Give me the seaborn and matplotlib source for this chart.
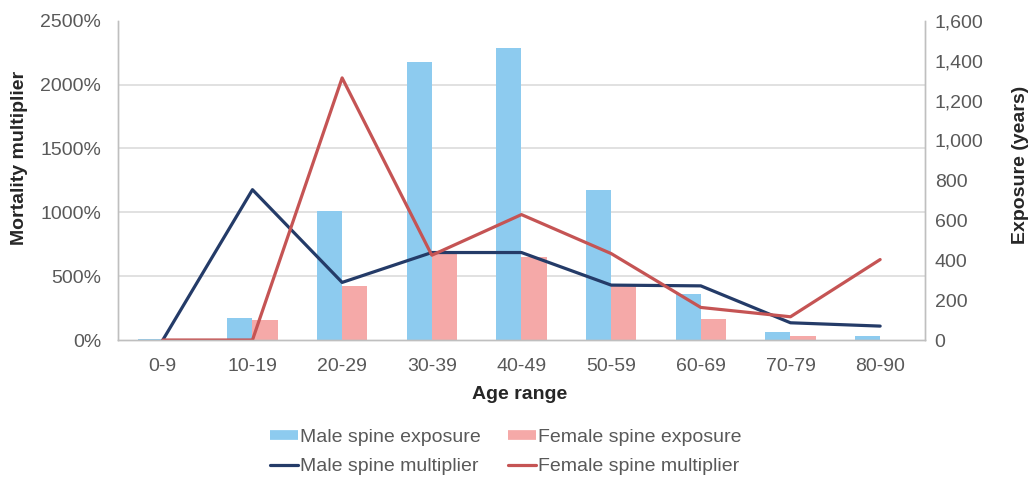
import numpy as np
import pandas as pd
import matplotlib
matplotlib.use("Agg")
import matplotlib.pyplot as plt
from matplotlib.lines import Line2D
from matplotlib.ticker import PercentFormatter, FuncFormatter
import seaborn as sns

# Age bands and the four series
ages = ["0-9", "10-19", "20-29", "30-39", "40-49", "50-59", "60-69", "70-79", "80-90"]
male_exposure = [5, 108, 647, 1392, 1462, 753, 233, 42, 22]
female_exposure = [0, 100, 272, 433, 417, 275, 103, 22, 0]
male_multiplier = [0, 1177, 451, 685, 685, 430, 424, 135, 109]
female_multiplier = [0, 0, 2052, 664, 982, 677, 255, 182, 630]

series_names = ["Male spine exposure", "Female spine exposure",
                "Male spine multiplier", "Female spine multiplier"]

c_male_bar = "#8DCBEF"
c_female_bar = "#F5A9A8"
c_male_line = "#243B68"
c_female_line = "#C55454"
c_grid = "#D9D9D9"
c_tick = "#595959"
c_label = "#262626"

sns.set_style("white")
plt.rcParams["font.family"] = ["Liberation Sans", "DejaVu Sans"]

exposure_df = pd.DataFrame({
    "age": ages * 2,
    "exposure": male_exposure + female_exposure,
    "series": [series_names[0]] * len(ages) + [series_names[1]] * len(ages),
})
mult_df = pd.DataFrame({
    "pos": list(range(len(ages))) * 2,
    "mult": male_multiplier + female_multiplier,
    "series": [series_names[2]] * len(ages) + [series_names[3]] * len(ages),
})

fig = plt.figure(figsize=(10.32, 4.87), dpi=100)
ax1 = fig.add_axes([0.1143, 0.3018, 0.7820, 0.6557])
ax2 = ax1.twinx()

# Exposure bars on the right-hand axis, drawn underneath the lines
sns.barplot(data=exposure_df, x="age", y="exposure", hue="series",
            palette=[c_male_bar, c_female_bar], width=0.56, gap=0,
            saturation=1, legend=False, linewidth=0, ax=ax2)
ax2.set_ylim(0, 1600)
ax2.set_yticks(np.arange(0, 1601, 200))
ax2.yaxis.set_major_formatter(FuncFormatter(lambda v, p: f"{v:,.0f}"))
# gridlines follow the left-axis steps (every 500% = every 320 years)
ax2.set_yticks(np.linspace(0, 1600, 6), minor=True)
ax2.grid(False)
ax2.grid(True, which="minor", axis="y", color=c_grid, linewidth=1.1)
ax2.set_axisbelow(True)
ax2.tick_params(axis="y", which="both", length=0, pad=7,
                labelsize=14, labelcolor=c_tick)
ax2.set_ylabel("Exposure (years)", fontsize=14, fontweight="bold",
               color=c_label)
ax2.yaxis.set_label_coords(1.108, 0.55)

# Mortality multiplier lines on the left-hand axis
sns.lineplot(data=mult_df, x="pos", y="mult", hue="series",
             palette=[c_male_line, c_female_line], linewidth=2.3,
             legend=False, ax=ax1)
ax1.set_zorder(ax2.get_zorder() + 1)
ax1.patch.set_visible(False)
ax1.set_ylim(0, 2500)
ax1.set_yticks(np.arange(0, 2501, 500))
ax1.yaxis.set_major_formatter(PercentFormatter(xmax=100, decimals=0))
ax1.grid(False)
ax1.set_xlim(-0.5, len(ages) - 0.5)
ax1.set_xticks(range(len(ages)), ages)
ax1.tick_params(axis="both", length=0, labelsize=14, labelcolor=c_tick)
ax1.tick_params(axis="y", pad=12)
ax1.tick_params(axis="x", pad=13)
ax1.set_ylabel("Mortality multiplier", fontsize=14, fontweight="bold",
               color=c_label)
ax1.yaxis.set_label_coords(-0.111, 0.57)
ax1.set_xlabel("Age range", fontsize=14, fontweight="bold", color=c_label)
ax1.xaxis.set_label_coords(0.498, -0.145)
ax2.set_xlabel("")

for ax in (ax1, ax2):
    for side in ("left", "right", "bottom"):
        ax.spines[side].set_color("#BFBFBF")
        ax.spines[side].set_linewidth(1.0)
    ax.spines["top"].set_visible(False)

# Legend built from proxy handles
handles = [
    Line2D([], [], color=c_male_bar, linewidth=7, solid_capstyle="butt"),
    Line2D([], [], color=c_male_line, linewidth=2.3),
    Line2D([], [], color=c_female_bar, linewidth=7, solid_capstyle="butt"),
    Line2D([], [], color=c_female_line, linewidth=2.3),
]
labels = [series_names[0], series_names[2], series_names[1], series_names[3]]
leg = fig.legend(handles, labels, loc="center", bbox_to_anchor=(0.49, 0.072),
                 ncol=2, frameon=False, fontsize=14, handlelength=1.45,
                 handletextpad=0.1, columnspacing=1.4, labelspacing=0.6)
for t in leg.get_texts():
    t.set_color(c_tick)

fig.savefig("out.png", dpi=100)
